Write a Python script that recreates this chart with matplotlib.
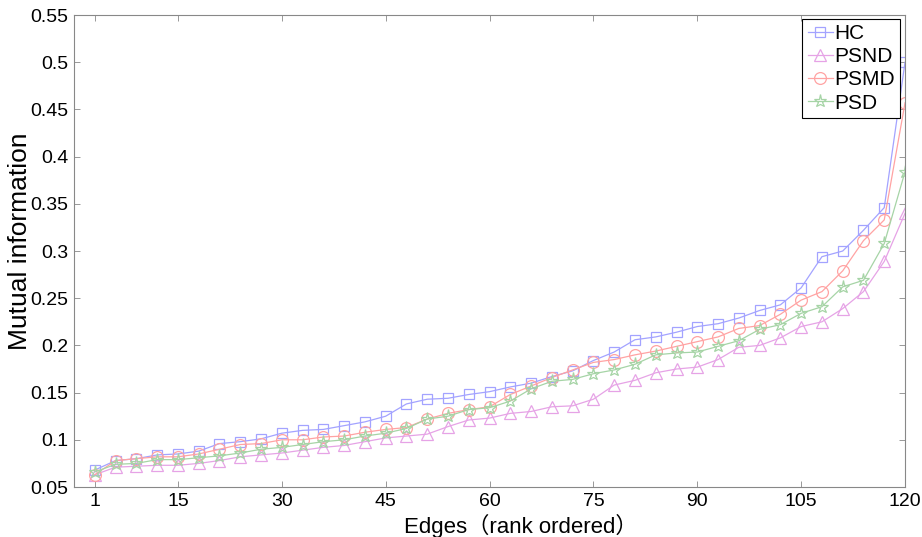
import numpy as np
import matplotlib
matplotlib.use("Agg")
import matplotlib.pyplot as plt
from matplotlib import font_manager

# edges are sampled every third rank: 3, 6, ..., 120
edges = np.arange(3, 121, 3)

hc = [0.068, 0.078, 0.080, 0.084, 0.085, 0.088, 0.096,
      0.098, 0.101, 0.107, 0.110, 0.111, 0.115, 0.119,
      0.125, 0.138, 0.143, 0.144, 0.148, 0.151,
      0.156, 0.160, 0.167, 0.173, 0.184, 0.193, 0.206,
      0.209, 0.214, 0.220, 0.223, 0.229, 0.237, 0.243,
      0.261, 0.294, 0.300, 0.322, 0.346, 0.500]
psnd = [0.063, 0.071, 0.072, 0.073, 0.073, 0.075, 0.078,
        0.082, 0.084, 0.086, 0.089, 0.092, 0.094, 0.098,
        0.102, 0.104, 0.106, 0.114, 0.121, 0.123,
        0.128, 0.130, 0.135, 0.136, 0.143, 0.158, 0.163,
        0.171, 0.175, 0.177, 0.185, 0.198, 0.200, 0.208,
        0.220, 0.225, 0.239, 0.257, 0.289, 0.340]
psmd = [0.063, 0.078, 0.080, 0.082, 0.082, 0.085, 0.090,
        0.095, 0.096, 0.100, 0.100, 0.103, 0.104, 0.108,
        0.111, 0.113, 0.122, 0.128, 0.132, 0.135,
        0.148, 0.157, 0.166, 0.174, 0.182, 0.185, 0.190,
        0.194, 0.199, 0.204, 0.209, 0.218, 0.221, 0.233,
        0.248, 0.257, 0.279, 0.311, 0.333, 0.457]
psd = [0.066, 0.074, 0.075, 0.079, 0.079, 0.081, 0.083,
       0.086, 0.090, 0.092, 0.095, 0.098, 0.100, 0.104,
       0.107, 0.112, 0.122, 0.125, 0.132, 0.134,
       0.141, 0.154, 0.162, 0.164, 0.170, 0.174, 0.180,
       0.190, 0.192, 0.193, 0.199, 0.205, 0.217, 0.222,
       0.234, 0.241, 0.262, 0.269, 0.308, 0.384]

xtick_pos = [3, 15, 30, 45, 60, 75, 90, 105, 120]
xtick_labels = ['1', '15', '30', '45', '60', '75', '90', '105', '120']
ytick_vals = [0.05, 0.1, 0.15, 0.2, 0.25, 0.3, 0.35, 0.4, 0.45, 0.5, 0.55]

names = [f.name for f in font_manager.fontManager.ttflist]
narrow = 'Liberation Sans Narrow' if 'Liberation Sans Narrow' in names else 'Liberation Sans'

plt.rcParams['font.family'] = ['Liberation Sans', 'Noto Sans CJK SC', 'DejaVu Sans']

fig = plt.figure(figsize=(9.22, 5.37), dpi=100)
ax = fig.add_axes([0.0803, 0.0931, 0.9013, 0.8789])

series = [
    ('HC', hc, '#a3a3ff', 's', 7),
    ('PSND', psnd, '#e6a3e6', '^', 8.5),
    ('PSMD', psmd, '#ffa3a3', 'o', 8.5),
    ('PSD', psd, '#a6d4a6', '*', 9.5),
]
for name, vals, col, mk, ms in series:
    ax.plot(edges, vals, color=col, lw=0.9, marker=mk, ms=ms,
            mfc='none', mec=col, mew=0.9, label=name)

ax.set_xlim(0, 120)
ax.set_ylim(0.05, 0.55)
ax.set_xticks(xtick_pos)
ax.set_xticklabels(xtick_labels, family=[narrow, 'Liberation Sans'], fontsize=14)
ax.set_yticks(ytick_vals)
ax.set_yticklabels(['%g' % v for v in ytick_vals], fontsize=14)
ax.tick_params(direction='in', length=4, width=0.6, color='#888888',
               top=True, right=True, pad=4)
for sp in ax.spines.values():
    sp.set_color('#888888')
    sp.set_linewidth(0.8)

ax.set_xlabel('Edges（rank ordered）', fontsize=16)
ax.xaxis.set_label_coords(0.538, -0.057)
ax.set_ylabel('Mutual information', fontsize=19)
ax.yaxis.set_label_coords(-0.051, 0.52)

leg = ax.legend(loc='upper right', bbox_to_anchor=(0.9945, 0.992), fontsize=15,
                frameon=True, fancybox=False, framealpha=1, edgecolor='black',
                handlelength=1.2, handletextpad=0.1, labelspacing=0.2,
                borderpad=0.25, borderaxespad=0)
leg.get_frame().set_linewidth(0.8)

fig.savefig('out.png', dpi=100)
